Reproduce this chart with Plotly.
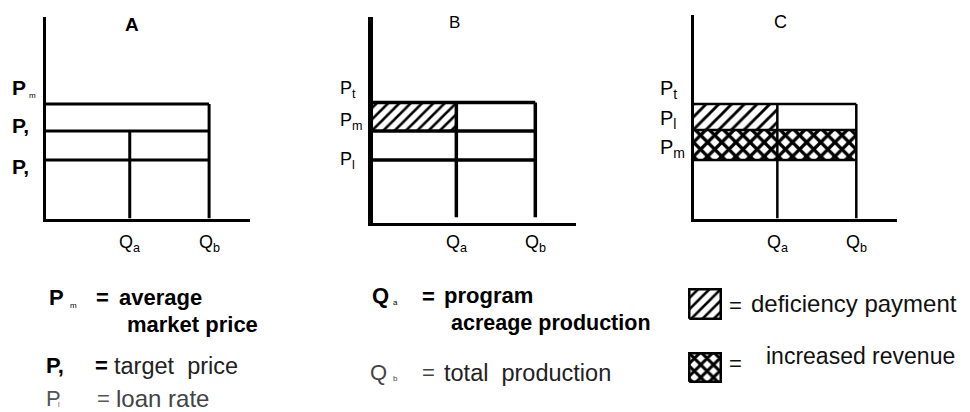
import plotly.graph_objects as go

W, H = 970, 412
FONT = "Liberation Sans, Arial, Helvetica, sans-serif"

# ---- data -----------------------------------------------------------------
PANELS = ["A", "B", "C"]
Q_A, Q_B = 4.12, 8.0           # program acreage production, total production
Q_AXIS_MAX, P_AXIS_MAX = 10.0, 10.0

A_PRICES = [5.68, 4.34, 2.90]  # P_m, P_t, P_l
B_PRICES = [5.84, 4.45, 3.04]  # P_t, P_m, P_l
C_PRICES = [5.63, 4.35, 2.87]  # P_t, P_l, P_m

A_LABELS = ["<b>P</b>", "<b>P,</b>", "<b>P,</b>"]
B_LABELS = ["P<sub>t</sub>", "P<sub>m</sub>", "P<sub>l</sub>"]
C_LABELS = ["P<sub>t</sub>", "P<sub>l</sub>", "P<sub>m</sub>"]
Q_LABELS = ["Q<sub>a</sub>", "Q<sub>b</sub>"]

# ---- helpers ----------------------------------------------------------------
def xdom(l, r):
    return [l / W, r / W]


def ydom(t, b):
    return [1 - b / H, 1 - t / H]


def px(x):
    return x / W


def py(y):
    return 1 - y / H


def seg_lines(segments):
    xs, ys = [], []
    for (x0, y0), (x1, y1) in segments:
        xs += [x0, x1, None]
        ys += [y0, y1, None]
    return xs, ys


def rect(x0, x1, y0, y1):
    return [x0, x1, x1, x0, x0], [y0, y0, y1, y1, y0]


fig = go.Figure()

# ---- axes -------------------------------------------------------------------
def axis_pair(n, xd, yd, xw, yw):
    sx = "" if n == 1 else str(n)
    common = dict(showgrid=False, zeroline=False, showticklabels=False,
                  ticks="", showline=True, linecolor="black", fixedrange=True)
    fig.layout["xaxis" + sx] = dict(domain=xd, range=[0, Q_AXIS_MAX],
                                    anchor="y" + sx, linewidth=xw, **common)
    fig.layout["yaxis" + sx] = dict(domain=yd, range=[0, P_AXIS_MAX],
                                    anchor="x" + sx, linewidth=yw, **common)


axis_pair(1, xdom(45.5, 250), ydom(17, 218.5), 3, 3)
axis_pair(2, xdom(372.5, 576), ydom(17, 222.5), 3, 5)
axis_pair(3, xdom(693.5, 897), ydom(15, 218.5), 3, 3)

# legend swatch axes
for n, (l, r, t, b) in [(4, (688, 722, 288, 320)), (5, (688, 722, 352, 383))]:
    hidden = dict(visible=False, range=[-0.04, 1.04], fixedrange=True)
    fig.layout["xaxis%d" % n] = dict(domain=xdom(l, r), anchor="y%d" % n, **hidden)
    fig.layout["yaxis%d" % n] = dict(domain=ydom(t, b), anchor="x%d" % n, **hidden)

DIAG = dict(shape="/", size=9, solidity=0.32, fgcolor="black", fgopacity=1,
            bgcolor="white")
CROSS = dict(shape="x", size=10, solidity=0.55, fgcolor="black", fgopacity=1,
             bgcolor="white")


def line_trace(segments, xa, ya, width):
    xs, ys = seg_lines(segments)
    fig.add_trace(go.Scatter(x=xs, y=ys, mode="lines", xaxis=xa, yaxis=ya,
                             line=dict(color="black", width=width),
                             hoverinfo="skip", showlegend=False))


def fill_trace(xs, ys, xa, ya, pattern, lw=0):
    fig.add_trace(go.Scatter(x=xs, y=ys, mode="lines", fill="toself",
                             xaxis=xa, yaxis=ya, fillcolor="white",
                             fillpattern=pattern,
                             line=dict(color="black", width=lw),
                             hoverinfo="skip", showlegend=False))


# ---- panel A ----------------------------------------------------------------
segs = [((0, p), (Q_B, p)) for p in A_PRICES]
segs += [((Q_A, 0), (Q_A, A_PRICES[1])), ((Q_B, 0), (Q_B, A_PRICES[0]))]
line_trace(segs, "x", "y", 3)

# ---- panel B ----------------------------------------------------------------
fill_trace(*rect(0, Q_A, B_PRICES[1], B_PRICES[0]), "x2", "y2",
           dict(DIAG, size=8))
segs = [((0, p), (Q_B, p)) for p in B_PRICES]
segs += [((Q_A, 0.25), (Q_A, B_PRICES[0])), ((Q_B, 0.25), (Q_B, B_PRICES[0]))]
line_trace(segs, "x2", "y2", 3.5)

# ---- panel C ----------------------------------------------------------------
fill_trace(*rect(0, Q_A, C_PRICES[1], C_PRICES[0]), "x3", "y3", DIAG)
fill_trace(*rect(0, Q_B, C_PRICES[2], C_PRICES[1]), "x3", "y3", CROSS)
segs = [((0, p), (Q_B, p)) for p in C_PRICES]
segs += [((Q_A, 0), (Q_A, C_PRICES[0])), ((Q_B, 0), (Q_B, C_PRICES[0]))]
line_trace(segs, "x3", "y3", 2.5)

# ---- legend swatches -------------------------------------------------------
fill_trace(*rect(0, 1, 0, 1), "x4", "y4", dict(DIAG, size=8), lw=2.5)
fill_trace(*rect(0, 1, 0, 1), "x5", "y5", dict(CROSS, size=9), lw=2.5)

# ---- text -------------------------------------------------------------------
ann = []


def text(x, y, s, size, color="black", xanchor="left", xref="paper", yref="paper"):
    ann.append(dict(x=x if xref != "paper" else px(x),
                    y=y if yref != "paper" else py(y),
                    xref=xref, yref=yref, text=s, showarrow=False,
                    xanchor=xanchor, yanchor="middle", borderpad=0,
                    font=dict(family=FONT, size=size, color=color)))


# panel titles
text(132, 25, "<b>" + PANELS[0] + "</b>", 19, xanchor="center")
text(454, 23, PANELS[1], 17, xanchor="center")
text(780, 22, PANELS[2], 18, xanchor="center")

# price labels
for lab, yc in zip(A_LABELS, [87.5, 126, 166]):
    text(11, yc, lab, 21)
text(28, 95, "m", 8)
for lab, yc in zip(B_LABELS, [89, 122, 161]):
    text(339, yc, lab, 18)
for lab, yc in zip(C_LABELS, [89, 119, 149]):
    text(659, yc, lab, 20)

# quantity labels
for xa in ["x", "x2", "x3"]:
    for q, lab in zip([Q_A, Q_B], Q_LABELS):
        text(q, 244, lab, 18, xanchor="center", xref=xa)

# definitions
text(48, 297, "<b>P</b>", 22)
text(69, 305, "m", 8)
text(95, 297, "<b>=</b>", 22)
text(118, 297.5, "<b>average</b>", 22)
text(126, 324.5, "<b>market price</b>", 22)
text(45, 365.5, "<b>P,</b>", 22)
text(94, 365.5, "<b>=</b>", 22)
text(113, 365.5, "target  price", 23.5, color="#222")
text(45, 398, "P", 22, color="#555")
text(57, 404, "l", 7, color="#555")
text(96, 398, "=", 22, color="#555")
text(115, 398, "loan rate", 24, color="#444")

text(371, 295.5, "<b>Q</b>", 22)
text(392, 302, "a", 8)
text(421, 296, "<b>=</b>", 22)
text(443, 295.5, "<b>program</b>", 22)
text(450, 322.5, "<b>acreage production</b>", 21.5)
text(369, 372.5, "Q", 22, color="#444")
text(392, 378, "b", 8, color="#444")
text(421, 372.5, "=", 22, color="#444")
text(443, 372.5, "total  production", 23.5, color="#222")

text(728, 305, "=", 22, color="#111")
text(750, 303, "deficiency payment", 24, color="#111")
text(728, 363, "=", 22, color="#111")
text(765, 356, "increased revenue", 23, color="#111")

fig.update_layout(width=W, height=H, margin=dict(l=0, r=0, t=0, b=0),
                  paper_bgcolor="white", plot_bgcolor="white",
                  showlegend=False, annotations=ann)

fig.write_html("out.html", config={"displayModeBar": False})
